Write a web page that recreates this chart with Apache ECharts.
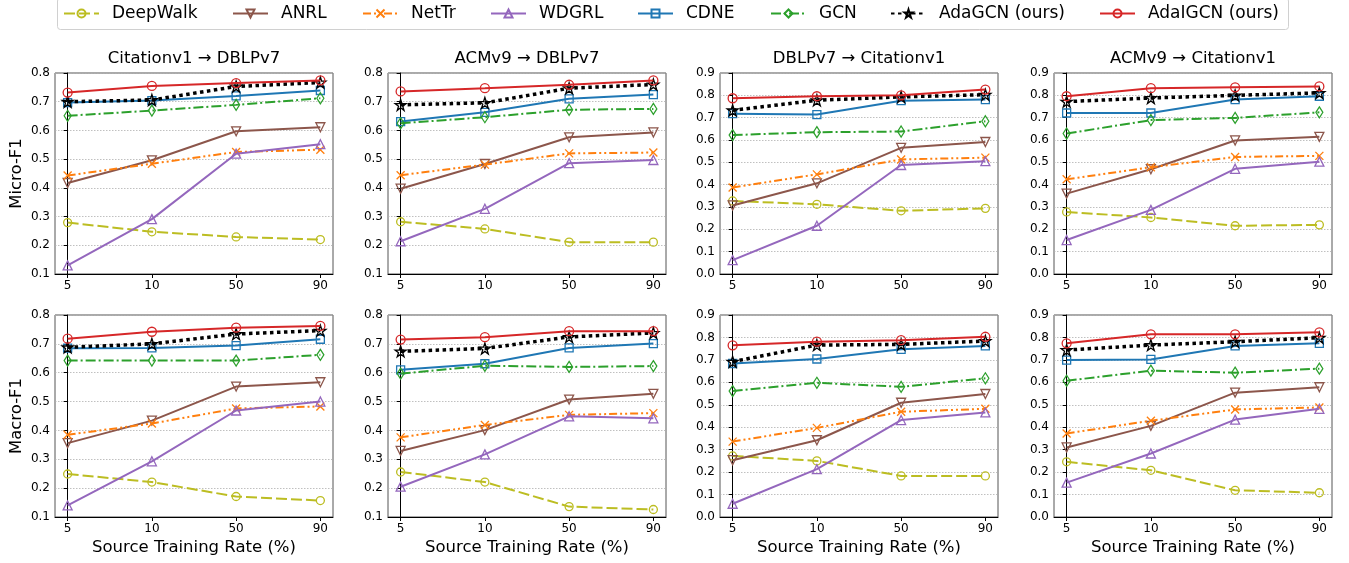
<!DOCTYPE html>
<html>
<head>
<meta charset="utf-8">
<script src="https://cdn.jsdelivr.net/npm/echarts@6/dist/echarts.min.js"></script>
<style>html,body{margin:0;padding:0;background:#fff;}#c{width:1349px;height:563px;}</style>
</head>
<body>
<div id="c"></div>
<script>
// ---------- data ----------
const xLabels = ['5', '10', '50', '90'];
const methods = ['DeepWalk', 'ANRL', 'NetTr', 'WDGRL', 'CDNE', 'GCN', 'AdaGCN (ours)', 'AdaIGCN (ours)'];
const panelTitles = ['Citationv1 \u2192 DBLPv7', 'ACMv9 \u2192 DBLPv7', 'DBLPv7 \u2192 Citationv1', 'ACMv9 \u2192 Citationv1'];
const rowNames = ['Micro-F1', 'Macro-F1'];
const yMins = [0.1, 0.1, 0.0, 0.0];
const yMaxs = [0.8, 0.8, 0.9, 0.9];

// Micro-F1, one inner array per panel (columns left to right)
const deepwalkMicro = [[0.279, 0.247, 0.229, 0.220], [0.282, 0.257, 0.211, 0.211], [0.327, 0.312, 0.283, 0.294], [0.278, 0.253, 0.216, 0.220]];
const anrlMicro     = [[0.417, 0.496, 0.597, 0.611], [0.397, 0.483, 0.576, 0.593], [0.307, 0.406, 0.565, 0.591], [0.360, 0.469, 0.598, 0.614]];
const nettrMicro    = [[0.443, 0.484, 0.525, 0.533], [0.444, 0.481, 0.520, 0.523], [0.387, 0.446, 0.513, 0.521], [0.424, 0.478, 0.524, 0.529]];
const wdgrlMicro    = [[0.130, 0.291, 0.519, 0.552], [0.214, 0.327, 0.486, 0.497], [0.062, 0.216, 0.488, 0.505], [0.152, 0.287, 0.471, 0.503]];
const cdneMicro     = [[0.697, 0.704, 0.720, 0.739], [0.631, 0.663, 0.710, 0.725], [0.718, 0.714, 0.776, 0.781], [0.721, 0.721, 0.781, 0.796]];
const gcnMicro      = [[0.651, 0.669, 0.689, 0.712], [0.625, 0.646, 0.672, 0.675], [0.622, 0.635, 0.638, 0.684], [0.629, 0.689, 0.699, 0.724]];
const adagcnMicro   = [[0.700, 0.706, 0.753, 0.767], [0.689, 0.696, 0.747, 0.760], [0.733, 0.778, 0.793, 0.803], [0.772, 0.788, 0.800, 0.811]];
const adaigcnMicro  = [[0.732, 0.755, 0.765, 0.774], [0.736, 0.747, 0.759, 0.774], [0.787, 0.796, 0.800, 0.826], [0.796, 0.832, 0.836, 0.840]];

// Macro-F1
const deepwalkMacro = [[0.249, 0.221, 0.171, 0.157], [0.256, 0.221, 0.136, 0.126], [0.272, 0.250, 0.183, 0.183], [0.246, 0.208, 0.119, 0.108]];
const anrlMacro     = [[0.356, 0.434, 0.552, 0.567], [0.329, 0.401, 0.507, 0.527], [0.253, 0.342, 0.509, 0.548], [0.310, 0.406, 0.554, 0.578]];
const nettrMacro    = [[0.385, 0.424, 0.476, 0.483], [0.376, 0.419, 0.454, 0.460], [0.336, 0.397, 0.469, 0.482], [0.372, 0.429, 0.479, 0.488]];
const wdgrlMacro    = [[0.140, 0.293, 0.469, 0.500], [0.205, 0.317, 0.449, 0.442], [0.059, 0.213, 0.432, 0.466], [0.153, 0.283, 0.434, 0.482]];
const cdneMacro     = [[0.685, 0.686, 0.694, 0.716], [0.610, 0.631, 0.686, 0.701], [0.684, 0.704, 0.747, 0.762], [0.699, 0.702, 0.762, 0.774]];
const gcnMacro      = [[0.642, 0.642, 0.642, 0.662], [0.597, 0.624, 0.620, 0.623], [0.561, 0.598, 0.580, 0.618], [0.607, 0.652, 0.643, 0.661]];
const adagcnMacro   = [[0.688, 0.700, 0.734, 0.746], [0.674, 0.684, 0.724, 0.738], [0.692, 0.766, 0.769, 0.784], [0.744, 0.766, 0.781, 0.799]];
const adaigcnMacro  = [[0.718, 0.742, 0.756, 0.762], [0.715, 0.723, 0.744, 0.744], [0.765, 0.781, 0.788, 0.803], [0.774, 0.814, 0.814, 0.823]];

const microData = [deepwalkMicro, anrlMicro, nettrMicro, wdgrlMicro, cdneMicro, gcnMicro, adagcnMicro, adaigcnMicro];
const macroData = [deepwalkMacro, anrlMacro, nettrMacro, wdgrlMacro, cdneMacro, gcnMacro, adagcnMacro, adaigcnMacro];

// ---------- styles ----------
const STAR = 'path://M50,0 L61.2,34.5 L97.6,34.5 L68.2,55.9 L79.4,90.5 L50,69.1 L20.6,90.5 L31.8,55.9 L2.4,34.5 L38.8,34.5 Z';
const XMARK = 'path://M0,0 L10,10 M10,0 L0,10';
const styles = [
  {color: '#bcbd22', type: [11, 4], width: 2, symbol: 'circle', size: 8, rot: 0},
  {color: '#8c564b', type: 'solid', width: 2, symbol: 'triangle', size: 9, rot: 180},
  {color: '#ff7f0e', type: [8, 3, 2, 3, 2, 3], width: 2, symbol: XMARK, size: 8, rot: 0},
  {color: '#9467bd', type: 'solid', width: 2, symbol: 'triangle', size: 9, rot: 0},
  {color: '#1f77b4', type: 'solid', width: 2, symbol: 'rect', size: 8, rot: 0},
  {color: '#2ca02c', type: [10, 3, 2, 3], width: 2, symbol: 'diamond', size: [7, 11], rot: 0},
  {color: '#000000', type: [3.5, 3.5], width: 3.5, symbol: STAR, size: 11, rot: 0},
  {color: '#d62728', type: 'solid', width: 2, symbol: 'circle', size: 9, rot: 0}
];
const legendLefts = [63, 232, 362, 490, 637, 770, 890, 1099];

const gridLefts = [55, 388, 720, 1054];
const gridWidth = 278;
const gridTops = [73, 315];
const gridHeights = [201, 202];
const FONT = 'DejaVu Sans';

const grids = [], xAxes = [], yAxes = [], series = [], graphics = [], legends = [];
for (let r = 0; r < 2; r++) {
  for (let c = 0; c < 4; c++) {
    const idx = r * 4 + c;
    grids.push({
      left: gridLefts[c], top: gridTops[r], width: gridWidth, height: gridHeights[r],
      show: true, borderColor: '#555', borderWidth: 1, backgroundColor: 'transparent'
    });
    xAxes.push({
      type: 'value', gridIndex: idx, min: -0.15, max: 3.15,
      axisLine: {show: true, onZero: false, lineStyle: {color: '#000', width: 1}},
      axisTick: {show: true, customValues: [0, 1, 2, 3], length: 4, lineStyle: {color: '#000'}},
      axisLabel: {show: true, customValues: [0, 1, 2, 3], margin: 6, fontSize: 12, color: '#000', fontFamily: FONT,
        formatter: v => xLabels[Math.round(v)]},
      splitLine: {show: false},
      name: r === 1 ? 'Source Training Rate (%)' : '',
      nameLocation: 'middle', nameGap: 22,
      nameTextStyle: {fontSize: 16.5, color: '#000', fontFamily: FONT}
    });
    yAxes.push({
      type: 'value', gridIndex: idx, min: yMins[c], max: yMaxs[c], interval: 0.1,
      axisLine: {show: true, lineStyle: {color: '#000', width: 1}},
      axisTick: {show: true, length: 4, lineStyle: {color: '#000'}},
      axisLabel: {margin: 5, fontSize: 12, color: '#000', fontFamily: FONT, formatter: v => v.toFixed(1)},
      splitLine: {show: true, lineStyle: {color: '#b0b0b0', width: 0.8, type: [1.5, 1.5]}},
      name: c === 0 ? rowNames[r] : '',
      nameLocation: 'middle', nameGap: 30,
      nameTextStyle: {fontSize: 16.5, color: '#000', fontFamily: FONT}
    });
    const dataSet = r === 0 ? microData : macroData;
    for (let m = 0; m < methods.length; m++) {
      const s = styles[m];
      series.push({
        type: 'line', name: methods[m], xAxisIndex: idx, yAxisIndex: idx,
        data: dataSet[m][c].map((v, k) => [k, v]),
        symbol: s.symbol, symbolSize: s.size, symbolRotate: s.rot, showSymbol: true,
        lineStyle: {color: s.color, width: s.width, type: s.type},
        itemStyle: {color: 'rgba(255,255,255,0)', borderColor: s.color, borderWidth: 1.3},
        z: 2 + m, silent: true, animation: false
      });
    }
  }
}
for (let c = 0; c < 4; c++) {
  graphics.push({
    type: 'text', x: gridLefts[c] + gridWidth / 2, y: 59,
    style: {text: panelTitles[c], fontSize: 16.5, fontFamily: FONT, fill: '#000', textAlign: 'center', textVerticalAlign: 'middle'}
  });
}
// legend frame
graphics.push({
  type: 'rect', shape: {x: 57.5, y: -2, width: 1231, height: 31.5, r: 3},
  style: {fill: 'none', stroke: '#d0d0d0', lineWidth: 1}, z: -1
});
for (let m = 0; m < methods.length; m++) {
  legends.push({
    data: [methods[m]], left: legendLefts[m], top: 5, padding: 0,
    itemWidth: 35, itemHeight: 10, selectedMode: false,
    textStyle: {fontSize: 17, color: '#000', fontFamily: FONT, padding: [0, 0, 0, 8]}
  });
}

const chart = echarts.init(document.getElementById('c'), null, {renderer: 'canvas'});
chart.setOption({
  animation: false,
  backgroundColor: '#fff',
  textStyle: {fontFamily: FONT},
  legend: legends,
  grid: grids, xAxis: xAxes, yAxis: yAxes, series: series,
  graphic: graphics
});
</script>
</body>
</html>
